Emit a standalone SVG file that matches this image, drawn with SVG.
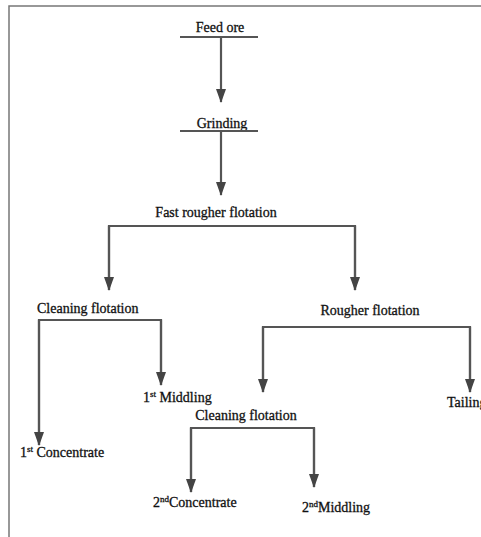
<svg xmlns="http://www.w3.org/2000/svg" width="481" height="537" viewBox="0 0 481 537">
<style>
text{font-family:"Liberation Serif","Times New Roman",serif;font-size:14px;fill:#111;stroke:#111;stroke-width:0.3}
.sup{font-size:9px}
.ln{fill:none;stroke:#555;stroke-width:2.2}
.arr{fill:none;stroke:#555;stroke-width:2.2;marker-end:url(#ah)}
.bd{stroke:#777;stroke-width:1.5;fill:none}
</style>
<defs>
<marker id="ah" markerUnits="userSpaceOnUse" viewBox="0 0 14 10" markerWidth="14" markerHeight="10" refX="13" refY="5" orient="auto">
<path d="M0,0 L14,5 L0,10 z" fill="#444"/>
</marker>
</defs>
<rect width="481" height="537" fill="#fff"/>
<path class="bd" d="M9,537 V6 H481"/>
<g id="n-feed"><text x="220" y="32" text-anchor="middle">Feed ore</text><line class="ln" x1="180" y1="37" x2="258" y2="37"/></g>
<g id="n-grinding"><text x="222" y="128" text-anchor="middle">Grinding</text><line class="ln" x1="180" y1="131" x2="258" y2="131"/></g>
<g id="n-fast"><text x="216" y="217" text-anchor="middle">Fast rougher flotation</text></g>
<g id="n-clean1"><text x="37" y="313">Cleaning flotation</text></g>
<g id="n-rougher"><text x="370" y="315" text-anchor="middle">Rougher flotation</text></g>
<g id="n-mid1"><text x="143" y="402">1<tspan class="sup" dy="-5">st</tspan><tspan dy="5"> Middling</tspan></text></g>
<g id="n-tail"><text x="447" y="407">Tailing</text></g>
<g id="n-conc1"><text x="20" y="457">1<tspan class="sup" dy="-5">st</tspan><tspan dy="5"> Concentrate</tspan></text></g>
<g id="n-clean2"><text x="246" y="420" text-anchor="middle">Cleaning flotation</text></g>
<g id="n-conc2"><text x="153" y="507">2<tspan class="sup" dy="-5">nd</tspan><tspan dy="5">Concentrate</tspan></text></g>
<g id="n-mid2"><text x="302" y="512">2<tspan class="sup" dy="-5">nd</tspan><tspan dy="5">Middling</tspan></text></g>
<g id="connectors">
<path class="ln" d="M109,290 V226 H355 V290"/>
<path class="arr" d="M221,37 V102"/>
<path class="arr" d="M221,131 V195"/>
<path class="arr" d="M109,226 V290"/>
<path class="arr" d="M355,226 V290"/>
<path class="ln" d="M39,445 V320 H161 V385"/>
<path class="arr" d="M39,320 V445"/>
<path class="arr" d="M161,320 V385"/>
<path class="ln" d="M263,392 V327 H470 V392"/>
<path class="arr" d="M263,327 V392"/>
<path class="arr" d="M470,327 V392"/>
<path class="ln" d="M191,492 V428 H314 V487"/>
<path class="arr" d="M191,428 V492"/>
<path class="arr" d="M314,428 V487"/>
</g>
</svg>
